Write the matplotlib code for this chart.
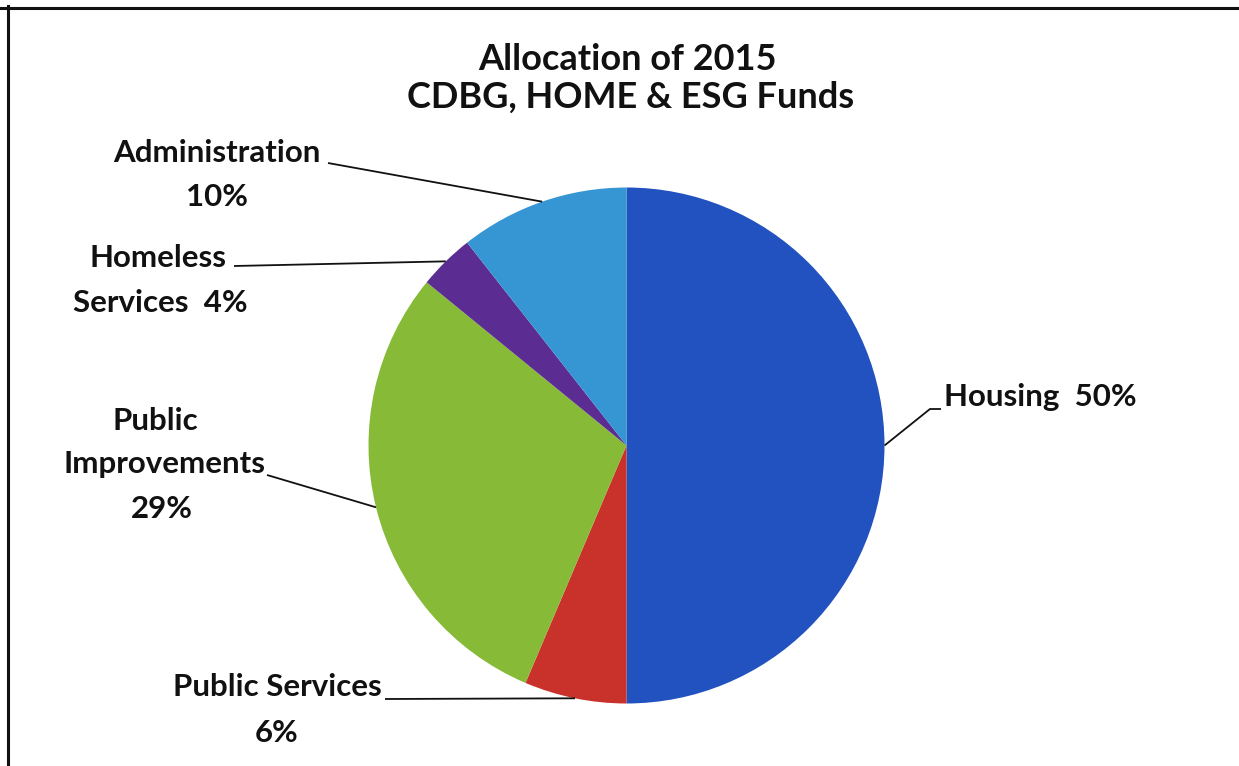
import numpy as np
import matplotlib
matplotlib.use("Agg")
import matplotlib.pyplot as plt
from matplotlib.lines import Line2D

# ---- data ----
categories = ["Housing", "Public Services", "Public Improvements",
              "Homeless Services", "Administration"]
values = [50.0, 6.4, 29.5, 3.5, 10.6]
pct_labels = ["50%", "6%", "29%", "4%", "10%"]
colors = ["#2152C0", "#C9322A", "#87BA37", "#5B2D92", "#3696D3"]
title_lines = ["Allocation of 2015", "CDBG, HOME & ESG Funds"]

W, H = 1239, 766
plt.rcParams['font.family'] = ['Lato', 'DejaVu Sans']
fig = plt.figure(figsize=(W / 100, H / 100), dpi=100)
fig.patch.set_facecolor("white")
ax = fig.add_axes([0, 0, 1, 1])

def Y(y):
    return H - y

cx, cy, r = 626.5, Y(445.5), 258
wedges, _ = ax.pie(values, colors=colors, startangle=90, counterclock=False,
                   center=(cx, cy), radius=r,
                   wedgeprops=dict(linewidth=0, edgecolor="none"))
ax.set_xlim(0, W)
ax.set_ylim(0, H)
ax.set_aspect("auto")
ax.axis("off")

def edge_point(w):
    th = np.deg2rad((w.theta1 + w.theta2) / 2)
    return cx + r * np.cos(th), cy + r * np.sin(th)

tkw = dict(fontsize=22.5, fontweight="bold", color="#111111", va="baseline")

# Title
ax.text(627, Y(70), title_lines[0], ha="center", va="baseline",
        fontsize=26, fontweight="bold", color="#111111")
ax.text(631, Y(108), title_lines[1], ha="center", va="baseline",
        fontsize=26, fontweight="bold", color="#111111")

lc = dict(color="#111111", lw=1.3, solid_capstyle="butt")

# Housing
ex, ey = edge_point(wedges[0])
ax.text(944, Y(406), f"{categories[0]}  {pct_labels[0]}", ha="left", **tkw)
ax.plot([941, 930, ex], [Y(409), Y(409), ey], **lc)

# Public Services
ex, ey = edge_point(wedges[1])
ax.text(277, Y(696), categories[1], ha="center", **tkw)
ax.text(277, Y(742), pct_labels[1], ha="center", **tkw)
ax.plot([385, ex], [Y(699), ey], **lc)

# Public Improvements
ex, ey = edge_point(wedges[2])
ax.text(155, Y(430), "Public", ha="center", **tkw)
ax.text(164, Y(473), "Improvements", ha="center", **tkw)
ax.text(162, Y(518), pct_labels[2], ha="center", **tkw)
ax.plot([267, ex], [Y(475), ey], **lc)

# Homeless Services
ex, ey = edge_point(wedges[3])
ax.text(158, Y(267), "Homeless", ha="center", **tkw)
ax.text(160, Y(312), "Services  " + pct_labels[3], ha="center", **tkw)
ax.plot([234, ex], [Y(266), ey], **lc)

# Administration
ex, ey = edge_point(wedges[4])
ax.text(217, Y(162), categories[4], ha="center", **tkw)
ax.text(217, Y(206), pct_labels[4], ha="center", **tkw)
ax.plot([328, ex], [Y(163), ey], **lc)

# frame lines (top and left)
fig.add_artist(Line2D([0, 1], [1 - 7.5 / H, 1 - 7.5 / H], color="#111111",
                      lw=2.2, transform=fig.transFigure))
fig.add_artist(Line2D([7.5 / W, 7.5 / W], [0, 1 - 6 / H], color="#111111",
                      lw=2.2, transform=fig.transFigure))

fig.savefig("out.png", dpi=100, facecolor="white")
